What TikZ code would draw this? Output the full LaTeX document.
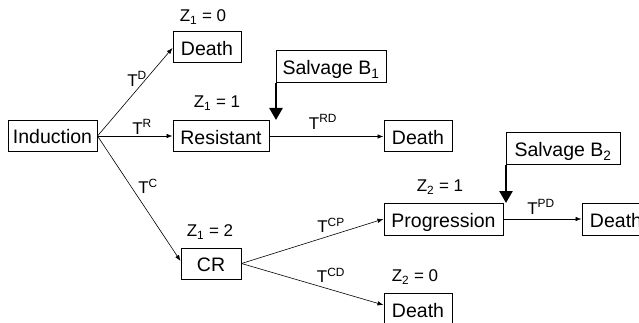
\documentclass[tikz,border=0pt]{standalone}
\usepackage{fontspec}
\setmainfont{Liberation Sans}
\usetikzlibrary{arrows.meta}
\begin{document}
\begin{tikzpicture}[x=1pt,y=-1pt,
  box/.style={draw,line width=1pt,inner sep=0pt,minimum height=31pt,text height=16pt,text depth=0pt,font=\fontsize{19.5}{21}\selectfont},
  lab/.style={inner sep=0pt,font=\fontsize{17}{19}\selectfont},
  arr/.style={line width=0.6pt,-{Latex[length=6pt,width=4.5pt]}},
  bigarr/.style={line width=2.6pt,-{Triangle[length=12pt,width=13pt]}}]
\useasboundingbox (0,0) rectangle (639,323);
\clip (0,0) rectangle (639,323);
% boxes
\node[box,minimum width=89pt] (ind) at (52.5,136) {Induction};
\node[box,minimum width=68pt] (d1) at (207,47.5) {Death};
\node[box,minimum width=96pt] (res) at (221,136.5) {Resistant};
\node[box,minimum width=68pt] (d2) at (418,136.5) {Death};
\node[box,minimum width=110pt,minimum height=32pt] (sb1) at (331,67) {Salvage B\textsubscript{1}};
\node[box,minimum width=60pt] (cr) at (211,263.5) {CR};
\node[box,minimum width=119pt,minimum height=32pt] (prog) at (443.5,219) {Progression};
\node[box,minimum width=68pt,minimum height=32pt] (d3) at (616,219) {Death};
\node[box,minimum width=114pt,minimum height=32pt] (sb2) at (563,149) {Salvage B\textsubscript{2}};
\node[box,minimum width=68pt,minimum height=32pt] (d4) at (418,309) {Death};
% labels
\node[lab] (z10) at (203,17) {Z\textsubscript{1} = 0};
\node[lab] (z11) at (217,103) {Z\textsubscript{1} = 1};
\node[lab] (z12) at (210,232) {Z\textsubscript{1} = 2};
\node[lab] (z21) at (440,187) {Z\textsubscript{2} = 1};
\node[lab] (z20) at (415,277) {Z\textsubscript{2} = 0};
\node[lab] (td) at (137,79) {T\textsuperscript{D}};
\node[lab] (tr) at (142,127) {T\textsuperscript{R}};
\node[lab] (tc) at (148,186) {T\textsuperscript{C}};
\node[lab] (trd) at (323,122) {T\textsuperscript{RD}};
\node[lab] (tcp) at (331,225) {T\textsuperscript{CP}};
\node[lab] (tcd) at (331,275) {T\textsuperscript{CD}};
\node[lab] (tpd) at (541,207) {T\textsuperscript{PD}};
% connectors
\coordinate (o) at (ind.east);
\draw[arr] (o) -- (d1.west |- 0,48);
\draw[arr] (o) -- (res.west |- o);
\draw[arr] (o) -- (cr.west |- 0,261);
\draw[arr] (res.east) -- (d2.west |- res.east);
\coordinate (c) at (cr.east);
\draw[arr] (c) -- (prog.west);
\draw[arr] (c) -- (d4.west |- 0,305);
\draw[arr] (prog.east) -- (d3.west |- prog.east);
\coordinate (b1) at (sb1.south west);
\coordinate (b1e) at (276,120);
\draw[bigarr] ([xshift=0.5pt]b1) -- (b1e);
\coordinate (b2) at (sb2.south west);
\coordinate (b2e) at (506,203);
\draw[bigarr] ([xshift=0.5pt]b2) -- (b2e);
\end{tikzpicture}
\end{document}
